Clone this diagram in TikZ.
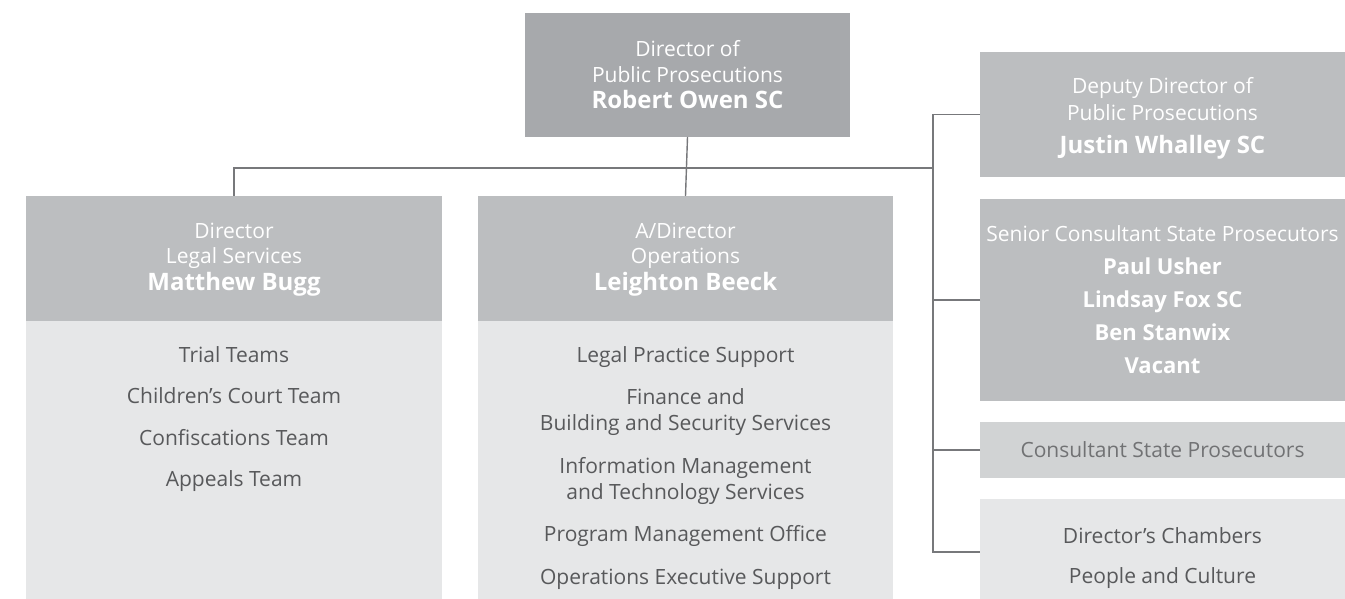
\documentclass[tikz,border=0pt]{standalone}
\usepackage{fontspec}
\setmainfont{Open Sans}
\definecolor{topgray}{HTML}{A7A9AC}
\definecolor{hdrgray}{HTML}{BCBEC0}
\definecolor{midgray}{HTML}{D1D3D4}
\definecolor{palegray}{HTML}{E6E7E8}
\definecolor{linegray}{HTML}{77787B}
\definecolor{bodytext}{HTML}{58595B}
\newcommand{\nm}[1]{{\fontsize{24}{27}\selectfont\bfseries #1}}
\newcommand{\snm}[1]{{\fontsize{22}{27}\selectfont\bfseries #1}}
\begin{document}
\begin{tikzpicture}[x=1pt,y=-1pt,
  box/.style={draw=none, inner sep=0pt, outer sep=0pt, anchor=north west},
  hdrtext/.style={align=center, text=white, inner sep=0pt, font=\fontsize{21}{25.5}\selectfont},
  listtext/.style={align=center, text=bodytext, inner sep=0pt, anchor=north, font=\fontsize{21}{26}\selectfont},
  link/.style={draw=linegray, line width=1.4pt}]
\useasboundingbox (0,0) rectangle (1345,599);

% boxes
\node[box, fill=topgray, minimum width=325pt, minimum height=124pt] (dpp) at (525,13) {};
\node[box, fill=hdrgray, minimum width=416pt, minimum height=125pt] (lsh) at (26,196) {};
\node[box, fill=palegray, minimum width=416pt, minimum height=278pt] (lsb) at (26,321) {};
\node[box, fill=hdrgray, minimum width=415pt, minimum height=125pt] (oph) at (478,196) {};
\node[box, fill=palegray, minimum width=415pt, minimum height=278pt] (opb) at (478,321) {};
\node[box, fill=hdrgray, minimum width=365pt, minimum height=125pt] (dep) at (980,52) {};
\node[box, fill=hdrgray, minimum width=365pt, minimum height=202pt] (scsp) at (980,199) {};
\node[box, fill=midgray, minimum width=365pt, minimum height=56pt] (csp) at (980,422) {};
\node[box, fill=palegray, minimum width=365pt, minimum height=100pt] (dch) at (980,499) {};

% header texts
\node[hdrtext] (dppt) at (dpp.center) {Director of\\Public Prosecutions\\[1pt]\nm{Robert Owen SC}};
\node[hdrtext] (lsht) at ([yshift=-1pt]lsh.center) {Director\\Legal Services\\[1pt]\nm{Matthew Bugg}};
\node[hdrtext] (opht) at ([yshift=-1pt]oph.center) {A/Director\\Operations\\[1pt]\nm{Leighton Beeck}};
\node[hdrtext, font=\fontsize{21}{26.5}\selectfont] (dept) at ([yshift=-4pt]dep.center) {Deputy Director of\\Public Prosecutions\\[7pt]\nm{Justin Whalley SC}};
\node[hdrtext, font=\fontsize{21}{33}\selectfont] (scspt) at (scsp.center)
  {Senior Consultant State Prosecutors\\\snm{Paul Usher}\\\snm{Lindsay Fox SC}\\\snm{Ben Stanwix}\\\snm{Vacant}};
\node[hdrtext, text=bodytext!85] (cspt) at (csp.center) {Consultant State Prosecutors};
\node[listtext, anchor=center, font=\fontsize{21}{40}\selectfont] (dcht) at ([yshift=-9pt]dch.center)
  {Director’s Chambers\\People and Culture};

% team lists
\node[listtext, font=\fontsize{21}{41.5}\selectfont] (lsbt) at ([yshift=-25pt]lsb.north)
  {Trial Teams\\Children’s Court Team\\Confiscations Team\\Appeals Team};
\node[listtext] (opbt) at ([yshift=-25pt]opb.north)
  {Legal Practice Support\\[16.5pt]Finance and\\Building and Security Services\\[16.5pt]Information Management\\and Technology Services\\[16.5pt]Program Management Office\\[16.5pt]Operations Executive Support};

% connectors
\coordinate (bus) at (933,168);
\draw[link] (dpp.south) -- (oph.north);
\draw[link] (lsh.north) |- (bus);
\draw[link] (dep.west) -| (bus) |- ([yshift=-3pt]dch.west);
\draw[link] (scsp.west) -- (scsp.west -| bus);
\draw[link] (csp.west) -- (csp.west -| bus);
\end{tikzpicture}
\end{document}
